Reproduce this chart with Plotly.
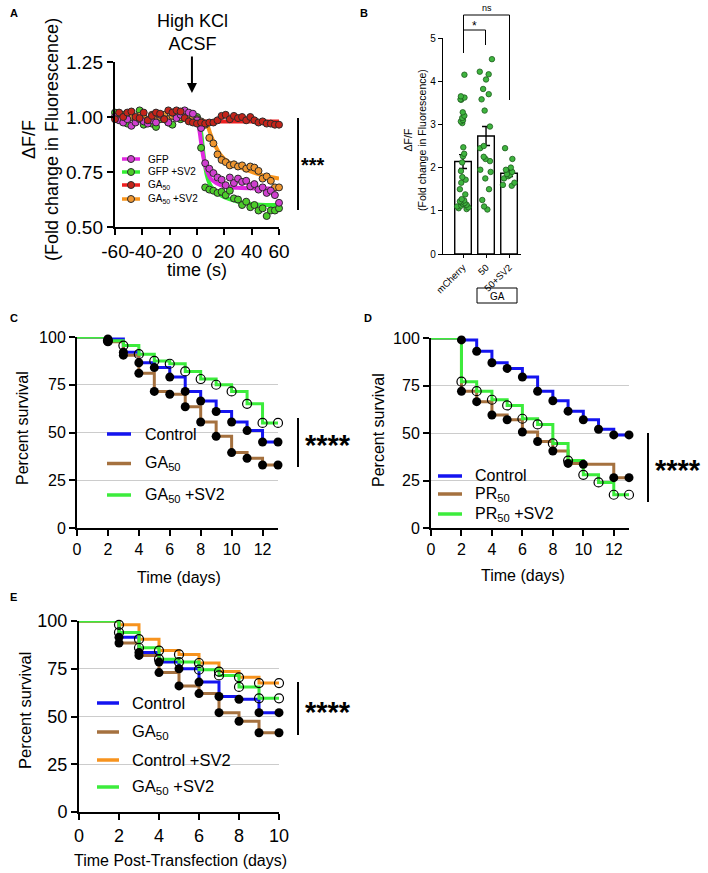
import plotly.graph_objects as go

FONT = "Liberation Sans, Arial, sans-serif"
W, H = 708, 873

# ---------------- panel A : dF/F after high KCl ACSF ----------------
a_time = [-60, -57, -54, -51, -48, -45, -42, -39, -36, -33, -30, -27, -24, -21,
          -18, -15, -12, -9, -6, -3, 0, 3, 6, 9, 12, 15, 18, 21, 24, 27, 30,
          33, 36, 39, 42, 45, 48, 51, 54, 57, 60]
a_gfp = [1.00, 0.985, 0.975, 0.99, 0.96, 0.975, 0.99, 0.98, 0.97, 0.985, 0.975,
         1.01, 0.99, 0.975, 1.02, 0.995, 1.01, 1.03, 1.02, 1.015, 0.985, 0.95,
         0.79, 0.765, 0.745, 0.725, 0.715, 0.69, 0.725, 0.70, 0.72, 0.705, 0.71,
         0.685, 0.695, 0.67, 0.68, 0.655, 0.665, 0.645, 0.61]
a_gfp_sv2 = [1.02, 0.995, 1.01, 0.97, 1.02, 0.985, 1.03, 0.965, 0.98, 0.97, 0.955,
             0.99, 1.00, 0.975, 0.965, 1.00, 0.99, 1.015, 1.005, 0.99, 1.00, 0.86,
             0.68, 0.67, 0.665, 0.655, 0.66, 0.645, 0.665, 0.63, 0.625, 0.60, 0.615,
             0.59, 0.60, 0.575, 0.585, 0.55, 0.575, 0.575, 0.585]
a_ga50 = [0.99, 1.02, 1.00, 1.02, 1.025, 1.00, 0.995, 1.02, 0.985, 1.005, 1.02,
          1.015, 0.99, 1.03, 1.02, 1.03, 1.025, 0.995, 0.98, 0.975, 0.97, 0.975,
          0.97, 0.975, 0.975, 0.985, 1.005, 1.01, 0.99, 1.005, 0.995, 1.00, 0.985,
          1.00, 0.985, 0.975, 0.98, 0.97, 0.97, 0.965, 0.965]
a_ga50_sv2 = [1.00, 1.01, 0.99, 1.015, 1.00, 0.99, 1.005, 1.00, 0.985, 1.01, 0.995,
              1.00, 1.01, 0.99, 1.005, 1.02, 1.00, 1.01, 1.005, 0.995, 0.99, 0.98,
              0.965, 0.905, 0.88, 0.83, 0.805, 0.795, 0.78, 0.785, 0.775, 0.78,
              0.765, 0.775, 0.77, 0.755, 0.72, 0.73, 0.71, 0.68, 0.68]
a_ticks = [-60, -40, -20, 0, 20, 40, 60]
a_ticktext = ["-60", "-40", "-20", "0", "20", "40", "60"]

# fitted decay curves
fit_gfp_t = [0, 2, 4, 6, 8, 10, 14, 20, 30, 45, 60]
fit_gfp = [1.0, 0.93, 0.84, 0.78, 0.745, 0.72, 0.70, 0.685, 0.678, 0.675, 0.675]
fit_gfp_sv2_t = [1, 3, 5, 7, 9, 12, 16, 20, 30, 40, 50, 60]
fit_gfp_sv2 = [1.0, 0.93, 0.82, 0.74, 0.70, 0.67, 0.65, 0.635, 0.615, 0.605, 0.60, 0.60]
fit_ga50_t = [0, 60]
fit_ga50 = [0.98, 0.98]
fit_ga50_sv2_t = [4, 6, 8, 10, 13, 17, 22, 28, 36, 45, 60]
fit_ga50_sv2 = [0.985, 0.975, 0.955, 0.92, 0.875, 0.83, 0.80, 0.78, 0.76, 0.74, 0.72]

# ---------------- panel B : bar + points ----------------
b_groups = ["mCherry", "50", "50+SV2"]
b_means = [2.14, 2.73, 1.87]
b_sem = [0.16, 0.22, 0.08]
b_mcherry = [4.15, 3.65, 3.62, 3.58, 3.57, 3.28, 3.2, 3.15, 3.1, 3.07, 3.03, 2.47,
             2.32, 2.26, 2.12, 1.92, 1.78, 1.72, 1.65, 1.5, 1.38, 1.27, 1.24, 1.22,
             1.2, 1.18, 1.16, 1.14, 1.12, 1.1, 1.08, 1.06, 1.04]
b_ga50 = [4.51, 4.22, 4.16, 4.04, 3.82, 3.7, 3.58, 3.32, 2.95, 2.5, 2.45, 2.25,
          2.2, 2.15, 1.95, 1.9, 1.75, 1.5, 1.25, 1.1, 1.03]
b_ga50_sv2 = [2.45, 2.2, 2.0, 1.95, 1.9, 1.85, 1.83, 1.8, 1.75, 1.65, 1.6, 1.58]

# ---------------- panel C : survival GA50 ----------------
c_days = [0, 2, 3, 4, 5, 6, 7, 8, 9, 10, 11, 12, 13]
c_control = [100, 99, 92, 86.5, 84, 79, 71.5, 66.5, 61, 55.5, 51, 45, 45]
c_ga50 = [100, 97.5, 90.5, 81, 71.5, 70, 63.5, 55.5, 48, 39.5, 36.5, 33, 33]
c_ga50_sv2 = [100, 98, 95.5, 91, 87.5, 86, 82, 78, 75, 71.5, 65, 55, 55]

# ---------------- panel D : survival PR50 ----------------
d_days = [0, 2, 3, 4, 5, 6, 7, 8, 9, 10, 11, 12, 13]
d_control = [100, 99, 93, 87, 84, 79.5, 72, 67, 61.5, 57, 52, 49, 49]
d_pr50_days = [0, 2, 3, 4, 5, 6, 7, 8, 9, 10, 12, 13]
d_pr50 = [100, 72, 66.5, 59.5, 57, 50.5, 45.5, 40.5, 34, 33.5, 26.5, 26.5]
d_pr50_sv2 = [100, 77, 72, 67.5, 64.5, 57.5, 54.5, 44.5, 35.5, 28, 24, 17.5, 17.5]

# ---------------- panel E : survival post-transfection ----------------
e_days = [0, 2, 3, 4, 5, 6, 7, 8, 9, 10]
e_control = [100, 91.5, 83.5, 78.5, 75, 68, 60.5, 59, 52, 52]
e_ga50 = [100, 88.5, 82, 73, 66, 62, 52, 47.5, 41.5, 41.5]
e_control_sv2 = [100, 98, 90.5, 84.5, 82.5, 78, 73.5, 70.5, 67.5, 67.5]
e_ga50_sv2 = [100, 94, 86, 80, 78.5, 74.5, 71.5, 65.5, 59.5, 59.5]

BLUE = "#1414f0"
BROWN = "#a5713f"
GREEN = "#3cec3c"
ORANGE = "#f7931e"


def fx(p):
    return p / W


def fy(p):
    return 1 - p / H


fig = go.Figure()

# ---- A ----
a_series = [
    ("GFP +SV2", a_gfp_sv2, fit_gfp_sv2_t, fit_gfp_sv2, "#33ee33", "#4ccc2a"),
    ("GA<sub>50</sub> +SV2", a_ga50_sv2, fit_ga50_sv2_t, fit_ga50_sv2, "#f7941d", "#ef9630"),
    ("GFP", a_gfp, fit_gfp_t, fit_gfp, "#e028e0", "#cf40cf"),
    ("GA<sub>50</sub>", a_ga50, fit_ga50_t, fit_ga50, "#ee2020", "#c4241a"),
]
for name, vals, ft, fv, lc, mc in a_series:
    fig.add_trace(go.Scatter(x=ft, y=fv, mode="lines", xaxis="x", yaxis="y",
                             line=dict(color=lc, width=4, shape="spline"),
                             showlegend=False, hoverinfo="skip"))
for name, vals, ft, fv, lc, mc in a_series:
    fig.add_trace(go.Scatter(x=a_time, y=vals, mode="markers", xaxis="x", yaxis="y",
                             marker=dict(color=mc, size=7, line=dict(color="#2a2a2a", width=1)),
                             cliponaxis=False, showlegend=False))

# ---- B ----
fig.add_trace(go.Bar(x=b_groups, y=b_means, xaxis="x2", yaxis="y2", width=0.72,
                     marker=dict(color="white", line=dict(color="black", width=1.4)),
                     error_y=dict(type="data", array=b_sem, color="black", thickness=1.4, width=4),
                     showlegend=False))
b_x = [b_groups[0]] * len(b_mcherry) + [b_groups[1]] * len(b_ga50) + [b_groups[2]] * len(b_ga50_sv2)
b_y = b_mcherry + b_ga50 + b_ga50_sv2
fig.add_trace(go.Box(x=b_x, y=b_y, xaxis="x2", yaxis="y2", boxpoints="all", jitter=1.0,
                     pointpos=0, width=0.6, fillcolor="rgba(0,0,0,0)",
                     line=dict(color="rgba(0,0,0,0)", width=0),
                     marker=dict(color="#3fb43f", size=5.5, line=dict(color="#1d5a1d", width=0.8)),
                     showlegend=False))


# ---- survival panels ----
def survival(days, vals, color, xa, ya):
    fig.add_trace(go.Scatter(x=days, y=vals, mode="lines", xaxis=xa, yaxis=ya,
                             line=dict(color=color, width=3, shape="hv"), showlegend=False))


def survival_marks(days, vals, open_marker, xa, ya):
    if open_marker:
        mk = dict(symbol="circle-open", color="black", size=9, line=dict(width=1.2))
    else:
        mk = dict(symbol="circle", color="black", size=9)
    fig.add_trace(go.Scatter(x=days[1:], y=vals[1:], mode="markers", xaxis=xa, yaxis=ya,
                             marker=mk, cliponaxis=False, showlegend=False))


survival(c_days, c_control, BLUE, "x3", "y3")
survival(c_days, c_ga50, BROWN, "x3", "y3")
survival(c_days, c_ga50_sv2, GREEN, "x3", "y3")
survival_marks(c_days, c_control, False, "x3", "y3")
survival_marks(c_days, c_ga50, False, "x3", "y3")
survival_marks(c_days, c_ga50_sv2, True, "x3", "y3")

survival(d_days, d_control, BLUE, "x4", "y4")
survival(d_pr50_days, d_pr50, BROWN, "x4", "y4")
survival(d_days, d_pr50_sv2, GREEN, "x4", "y4")
survival_marks(d_days, d_control, False, "x4", "y4")
survival_marks(d_pr50_days, d_pr50, False, "x4", "y4")
survival_marks(d_days, d_pr50_sv2, True, "x4", "y4")

survival(e_days, e_control, BLUE, "x5", "y5")
survival(e_days, e_ga50, BROWN, "x5", "y5")
survival(e_days, e_control_sv2, ORANGE, "x5", "y5")
survival(e_days, e_ga50_sv2, GREEN, "x5", "y5")
survival_marks(e_days, e_control, False, "x5", "y5")
survival_marks(e_days, e_ga50, False, "x5", "y5")
survival_marks(e_days, e_control_sv2, True, "x5", "y5")
survival_marks(e_days, e_ga50_sv2, True, "x5", "y5")


def ax(**kw):
    d = dict(showline=True, linecolor="black", linewidth=2, ticks="outside", ticklen=6,
             tickwidth=2, tickcolor="black", showgrid=False, zeroline=False,
             tickfont=dict(size=16, color="black", family=FONT))
    d.update(kw)
    return d


surv_y = dict(range=[0, 100], tickvals=[0, 25, 50, 75, 100], showgrid=True,
              gridcolor="#cccccc", gridwidth=1)

fig.update_layout(
    width=W, height=H, margin=dict(l=0, r=0, t=0, b=0, autoexpand=False),
    paper_bgcolor="white", plot_bgcolor="white",
    font=dict(family=FONT, color="black"),
    showlegend=False,
    xaxis=ax(domain=[fx(115), fx(279)], anchor="y", range=[-60, 60],
             tickvals=a_ticks, ticktext=a_ticktext, tickangle=0,
             linewidth=2.4, tickwidth=2.4, tickfont=dict(size=19, color="black", family=FONT)),
    yaxis=ax(domain=[fy(227), fy(62)], anchor="x", range=[0.5, 1.25], dtick=0.25, tickformat=".2f",
             linewidth=2.4, tickwidth=2.4, tickfont=dict(size=19, color="black", family=FONT)),
    xaxis2=ax(domain=[fx(443), fx(521)], anchor="y2", type="category", range=[-0.87, 2.52],
              linewidth=1.3, tickwidth=1.2, ticklen=3, tickangle=-45,
              tickfont=dict(size=9.5, color="black", family=FONT)),
    yaxis2=ax(domain=[fy(254), fy(38)], anchor="x2", range=[0, 5], dtick=1,
              linewidth=1.3, tickwidth=1.2, ticklen=4,
              tickfont=dict(size=10, color="black", family=FONT)),
    xaxis3=ax(domain=[fx(77), fx(278)], anchor="y3", range=[0, 13], dtick=2),
    yaxis3=ax(domain=[fy(528), fy(337)], anchor="x3", **surv_y),
    xaxis4=ax(domain=[fx(431), fx(629)], anchor="y4", range=[0, 13], dtick=2),
    yaxis4=ax(domain=[fy(528), fy(338)], anchor="x4", **surv_y),
    xaxis5=ax(domain=[fx(79), fx(279)], anchor="y5", range=[0, 10], dtick=2,
              tickfont=dict(size=18, color="black", family=FONT)),
    yaxis5=ax(domain=[fy(812), fy(621)], anchor="x5",
              tickfont=dict(size=18, color="black", family=FONT), **surv_y),
)

ann = []
shapes = []


def text(x, y, s, size, bold=False, angle=0, anchor="center"):
    if bold:
        s = "<b>" + s + "</b>"
    ann.append(dict(x=fx(x), y=fy(y), xref="paper", yref="paper", text=s, showarrow=False,
                    xanchor=anchor, yanchor="middle", textangle=angle,
                    font=dict(size=size, color="black", family=FONT)))


def seg(x0, y0, x1, y1, w=2, color="black"):
    shapes.append(dict(type="line", xref="paper", yref="paper", x0=fx(x0), y0=fy(y0),
                       x1=fx(x1), y1=fy(y1), line=dict(color=color, width=w)))


def legend_rows(x0, x1, xt, rows, size, width=3.5, marker=None):
    # rows: (y, label, line colour, marker colour)
    for y, label, lc, mc in rows:
        seg(x0, y, x1, y, width, lc)
        if marker:
            xc = (x0 + x1) / 2
            shapes.append(dict(type="circle", xref="paper", yref="paper",
                               x0=fx(xc - marker), x1=fx(xc + marker),
                               y0=fy(y + marker), y1=fy(y - marker),
                               fillcolor=mc, line=dict(color="#2a2a2a", width=1)))
        text(xt, y, label, size, anchor="left")


# panel letters
text(14, 13, "A", 11, bold=True)
text(364, 13, "B", 11, bold=True)
text(14, 318, "C", 11, bold=True)
text(368, 318, "D", 11, bold=True)
text(13, 597, "E", 11, bold=True)

# A
text(40, 140, "ΔF/F<br>(Fold change in Fluorescence)", 18, angle=-90)
text(197, 270, "time (s)", 18)
text(192, 33, "High KCl<br>ACSF", 18)
ann.append(dict(x=-3.7, y=1.109, xref="x", yref="y", text="", showarrow=True, ax=0, ay=-38,
                arrowhead=2, arrowsize=1, arrowwidth=2, arrowcolor="black"))
text(313, 165, "***", 20, bold=True)
seg(298, 118, 298, 210)
legend_rows(122, 140, 146, [
    (159, "GFP", "#e028e0", "#cf40cf"),
    (172, "GFP +SV2", "#33ee33", "#4ccc2a"),
    (185, "GA<sub>50</sub>", "#ee2020", "#c4241a"),
    (199, "GA<sub>50</sub> +SV2", "#f7941d", "#ef9630"),
], 10, width=3.5, marker=3.5)

# B
text(415, 140, "ΔF/F<br>(Fold change in Fluorescence)", 10.5, angle=-90)
text(497, 296, "GA", 10)
text(475, 26, "*", 12)
text(487, 8, "ns", 9)
seg(463.5, 53, 463.5, 15, 1)
seg(463.5, 30, 485.5, 30, 1)
seg(485.5, 30, 485.5, 45, 1)
seg(463.5, 15, 509.5, 15, 1)
seg(509.5, 15, 509.5, 100, 1)
shapes.append(dict(type="rect", xref="paper", yref="paper", x0=fx(477), x1=fx(517),
                   y0=fy(303), y1=fy(288), line=dict(color="black", width=1)))

# C
text(22, 428, "Percent survival", 16, angle=-90)
text(179, 577, "Time (days)", 16)
text(328, 445, "****", 29, bold=True)
seg(298, 418, 298, 467)
legend_rows(107, 131, 143, [
    (434, "Control", BLUE, None),
    (463.5, "GA<sub>50</sub>", BROWN, None),
    (495, "GA<sub>50</sub> +SV2", GREEN, None),
], 16)

# D
text(378, 430, "Percent survival", 16, angle=-90)
text(523, 575, "Time (days)", 16)
text(678, 470, "****", 29, bold=True)
seg(648, 433, 648, 502)
legend_rows(438, 462, 473, [
    (476, "Control", BLUE, None),
    (494, "PR<sub>50</sub>", BROWN, None),
    (514, "PR<sub>50</sub> +SV2", GREEN, None),
], 16)

# E
text(25, 711, "Percent survival", 16.5, angle=-90)
text(180, 860, "Time Post-Transfection (days)", 16)
text(328, 712, "****", 29, bold=True)
seg(298, 682, 298, 735)
legend_rows(97, 119, 130, [
    (703, "Control", BLUE, None),
    (732, "GA<sub>50</sub>", BROWN, None),
    (760, "Control +SV2", ORANGE, None),
    (787, "GA<sub>50</sub> +SV2", GREEN, None),
], 16.5)

fig.update_layout(annotations=ann, shapes=shapes)
# drop the page's default body margin so the figure sits at the window's corner
fig.write_html("out.html", config={"displayModeBar": False},
               post_script="document.body.style.margin = '0px';")
